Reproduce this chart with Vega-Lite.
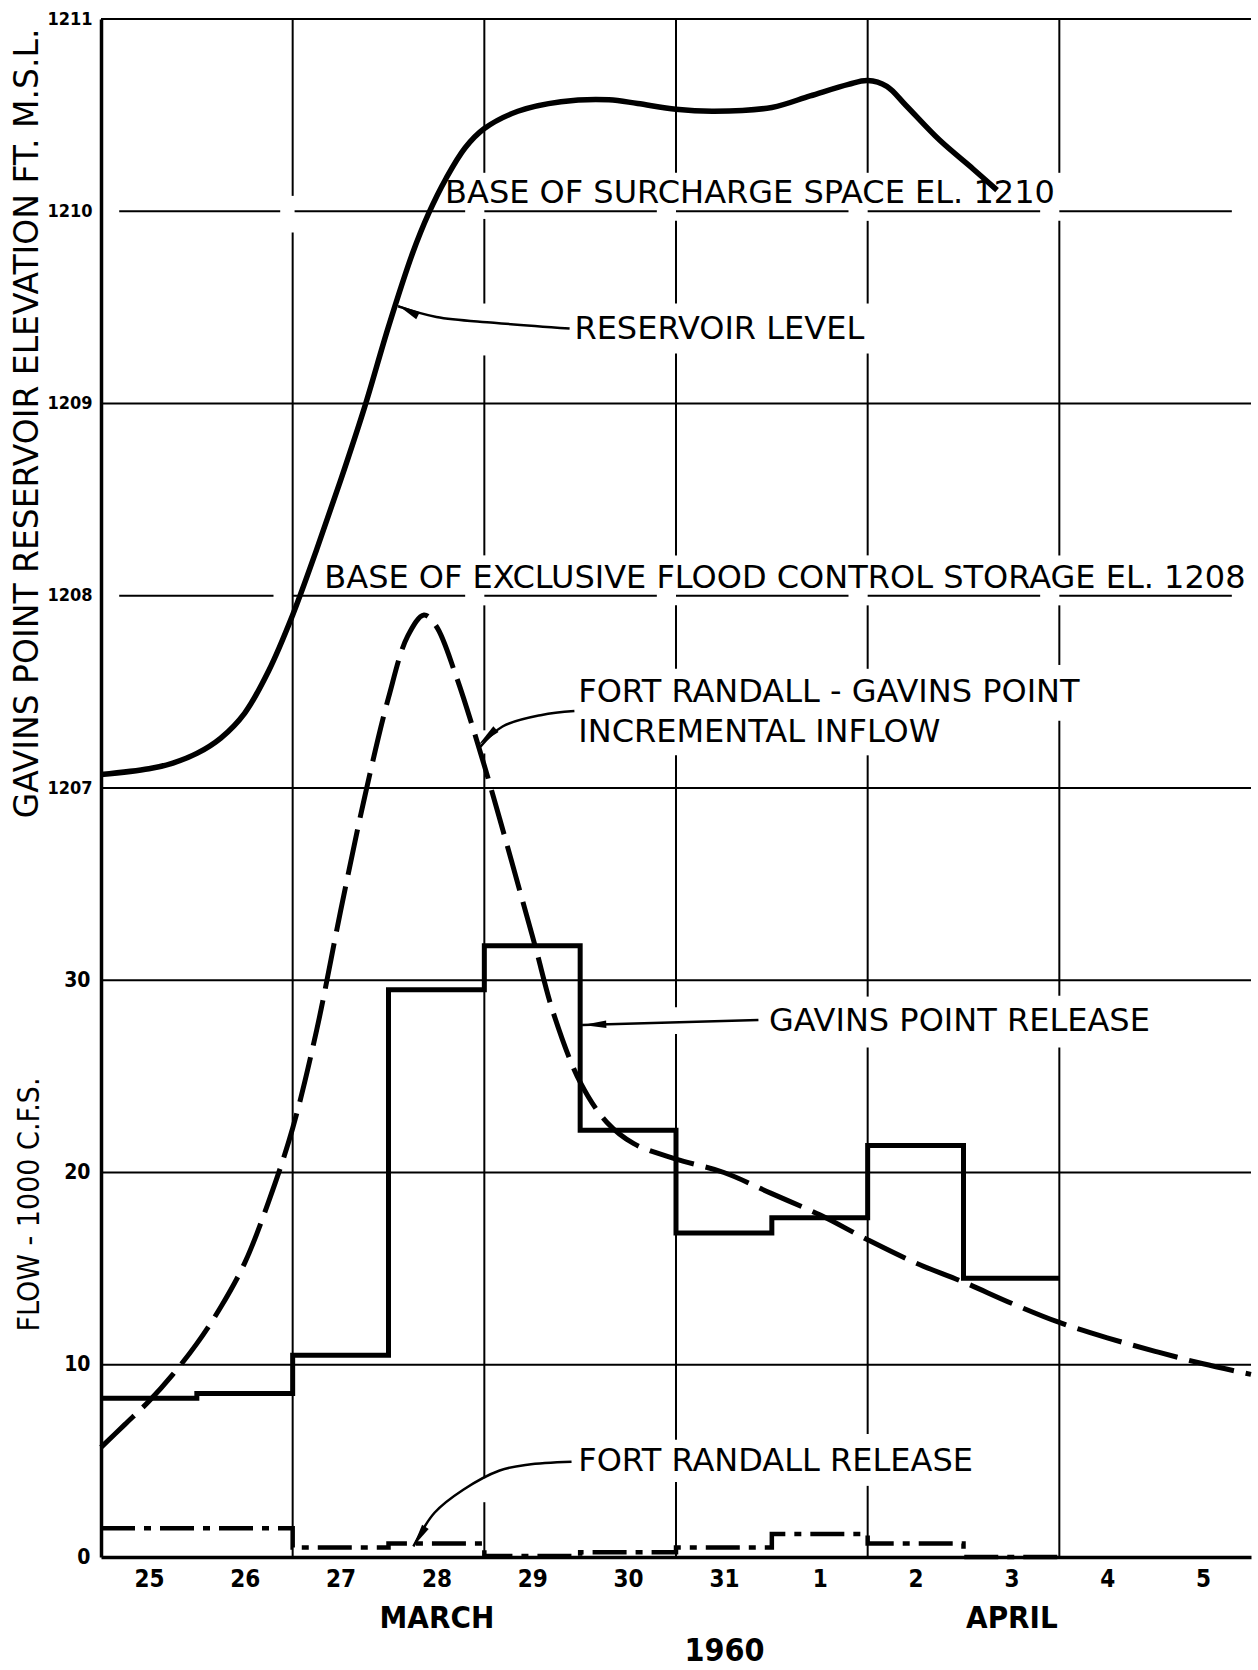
{
  "$schema": "https://vega.github.io/schema/vega-lite/v6.json",
  "width": 1150,
  "height": 1538,
  "autosize": {"type": "none"},
  "padding": {"left": 101, "top": 19, "right": 7, "bottom": 113},
  "background": "white",
  "config": {
    "view": {"stroke": null},
    "font": "DejaVu Sans",
    "axis": {"labelColor": "black", "titleColor": "black", "tickColor": "black", "domainColor": "black", "grid": false}
  },
  "datasets": {
    "gridV": [
      {"d": 26.5, "v": 0, "v2": 68.9}, {"d": 26.5, "v": 70.8, "v2": 80},
      {"d": 28.5, "v": 0, "v2": 2.85}, {"d": 28.5, "v": 4.1, "v2": 41.8}, {"d": 28.5, "v": 43.0, "v2": 49.5}, {"d": 28.5, "v": 52.1, "v2": 62.5}, {"d": 28.5, "v": 65.2, "v2": 69.6}, {"d": 28.5, "v": 72.0, "v2": 80},
      {"d": 30.5, "v": 0, "v2": 3.9}, {"d": 30.5, "v": 6.1, "v2": 27.2}, {"d": 30.5, "v": 28.6, "v2": 41.7}, {"d": 30.5, "v": 46.2, "v2": 49.5}, {"d": 30.5, "v": 52.1, "v2": 62.6}, {"d": 30.5, "v": 65.2, "v2": 69.5}, {"d": 30.5, "v": 72.0, "v2": 80},
      {"d": 32.5, "v": 0, "v2": 3.7}, {"d": 32.5, "v": 6.4, "v2": 26.5}, {"d": 32.5, "v": 29.15, "v2": 41.7}, {"d": 32.5, "v": 46.2, "v2": 49.5}, {"d": 32.5, "v": 52.1, "v2": 62.6}, {"d": 32.5, "v": 65.2, "v2": 69.5}, {"d": 32.5, "v": 72.0, "v2": 80},
      {"d": 34.5, "v": 0, "v2": 26.5}, {"d": 34.5, "v": 29.2, "v2": 43.5}, {"d": 34.5, "v": 46.4, "v2": 49.5}, {"d": 34.5, "v": 52.1, "v2": 69.5}, {"d": 34.5, "v": 72.0, "v2": 80}
    ],
    "gridH": [
      {"d": 24.5, "d2": 36.5, "v": 10}, {"d": 24.5, "d2": 36.5, "v": 20}, {"d": 24.5, "d2": 36.5, "v": 30},
      {"d": 24.5, "d2": 36.5, "v": 40}, {"d": 24.5, "d2": 36.5, "v": 60}, {"d": 24.5, "d2": 36.5, "v": 80},
      {"d": 24.69, "d2": 26.3, "v": 50}, {"d": 26.5, "d2": 28.3, "v": 50}, {"d": 28.5, "d2": 30.3, "v": 50}, {"d": 30.5, "d2": 32.3, "v": 50}, {"d": 32.5, "d2": 34.3, "v": 50}, {"d": 34.5, "d2": 36.3, "v": 50},
      {"d": 24.69, "d2": 26.37, "v": 70}, {"d": 26.52, "d2": 28.3, "v": 70}, {"d": 28.5, "d2": 30.3, "v": 70}, {"d": 30.5, "d2": 32.3, "v": 70}, {"d": 32.5, "d2": 34.3, "v": 70}, {"d": 34.5, "d2": 36.3, "v": 70}
    ],
    "inflow": [
      {"d": 24.5, "v": 5.7}, {"d": 24.75, "v": 6.9}, {"d": 25.0, "v": 8.1}, {"d": 25.25, "v": 9.5}, {"d": 25.5, "v": 11.1},
      {"d": 25.75, "v": 13.0}, {"d": 26.0, "v": 15.3}, {"d": 26.25, "v": 18.5}, {"d": 26.5, "v": 22.3}, {"d": 26.75, "v": 27.4},
      {"d": 27.0, "v": 33.6}, {"d": 27.25, "v": 39.5}, {"d": 27.5, "v": 44.7}, {"d": 27.7, "v": 47.9}, {"d": 27.87, "v": 49.0},
      {"d": 28.0, "v": 48.4}, {"d": 28.2, "v": 45.9}, {"d": 28.48, "v": 41.5}, {"d": 28.66, "v": 38.4}, {"d": 28.94, "v": 33.4},
      {"d": 29.04, "v": 31.6}, {"d": 29.22, "v": 28.3}, {"d": 29.5, "v": 24.7}, {"d": 29.78, "v": 22.6}, {"d": 30.06, "v": 21.5},
      {"d": 30.5, "v": 20.7}, {"d": 31.0, "v": 20.0}, {"d": 31.5, "v": 18.9}, {"d": 32.0, "v": 17.8}, {"d": 32.5, "v": 16.5},
      {"d": 33.0, "v": 15.3}, {"d": 33.5, "v": 14.3}, {"d": 34.0, "v": 13.2}, {"d": 34.5, "v": 12.2}, {"d": 35.0, "v": 11.4},
      {"d": 35.5, "v": 10.7}, {"d": 36.0, "v": 10.05}, {"d": 36.5, "v": 9.5}
    ],
    "gavins": [
      {"d": 24.5, "v": 8.26}, {"d": 25.5, "v": 8.5}, {"d": 26.5, "v": 10.5}, {"d": 27.5, "v": 29.5}, {"d": 28.5, "v": 31.8},
      {"d": 29.5, "v": 22.2}, {"d": 30.5, "v": 16.85}, {"d": 31.5, "v": 17.65}, {"d": 32.5, "v": 21.4}, {"d": 33.5, "v": 14.5}, {"d": 34.5, "v": 14.5}
    ],
    "fortrandall": [
      {"d": 24.5, "v": 1.5}, {"d": 26.5, "v": 0.5}, {"d": 27.5, "v": 0.7}, {"d": 28.5, "v": 0.05}, {"d": 29.5, "v": 0.25},
      {"d": 30.5, "v": 0.5}, {"d": 31.5, "v": 1.2}, {"d": 32.5, "v": 0.7}, {"d": 33.5, "v": 0.0}, {"d": 34.5, "v": 0.0}
    ],
    "reservoir": [
      {"d": 24.5, "e": 1207.07}, {"d": 25.0, "e": 1207.1}, {"d": 25.25, "e": 1207.13}, {"d": 25.5, "e": 1207.18}, {"d": 25.75, "e": 1207.26},
      {"d": 26.0, "e": 1207.39}, {"d": 26.25, "e": 1207.61}, {"d": 26.5, "e": 1207.9}, {"d": 26.75, "e": 1208.24}, {"d": 27.0, "e": 1208.6},
      {"d": 27.25, "e": 1208.98}, {"d": 27.5, "e": 1209.4}, {"d": 27.75, "e": 1209.78}, {"d": 27.92, "e": 1209.99}, {"d": 28.1, "e": 1210.17},
      {"d": 28.3, "e": 1210.33}, {"d": 28.5, "e": 1210.43}, {"d": 28.85, "e": 1210.52}, {"d": 29.3, "e": 1210.57}, {"d": 29.8, "e": 1210.58},
      {"d": 30.1, "e": 1210.56}, {"d": 30.5, "e": 1210.53}, {"d": 30.9, "e": 1210.52}, {"d": 31.5, "e": 1210.54}, {"d": 31.9, "e": 1210.6},
      {"d": 32.3, "e": 1210.66}, {"d": 32.5, "e": 1210.68}, {"d": 32.7, "e": 1210.65}, {"d": 32.9, "e": 1210.55}, {"d": 33.25, "e": 1210.37},
      {"d": 33.6, "e": 1210.22}, {"d": 33.85, "e": 1210.11}
    ],
    "arrows": [
      {"id": "res", "d": 27.6, "v": 65.05}, {"id": "res", "d": 28.0, "v": 64.5}, {"id": "res", "d": 28.6, "v": 64.2}, {"id": "res", "d": 29.39, "v": 63.9},
      {"id": "inf", "d": 28.45, "v": 42.1}, {"id": "inf", "d": 28.69, "v": 43.2}, {"id": "inf", "d": 29.1, "v": 43.8}, {"id": "inf", "d": 29.44, "v": 44.0},
      {"id": "gr", "d": 29.52, "v": 27.67}, {"id": "gr", "d": 31.36, "v": 27.93},
      {"id": "fr", "d": 27.76, "v": 0.55}, {"id": "fr", "d": 27.98, "v": 2.3}, {"id": "fr", "d": 28.28, "v": 3.5}, {"id": "fr", "d": 28.66, "v": 4.5}, {"id": "fr", "d": 28.95, "v": 4.8}, {"id": "fr", "d": 29.41, "v": 4.95}
    ],
    "heads": [
      {"id": "res", "d": 27.7, "v": 64.85},
      {"id": "inf", "d": 28.53, "v": 42.65},
      {"id": "gr", "d": 29.65, "v": 27.69},
      {"id": "fr", "d": 27.82, "v": 1.05}
    ],
    "notes": [
      {"t": "RESERVOIR LEVEL", "d": 29.44, "v": 63.9},
      {"t": "BASE OF SURCHARGE SPACE EL. 1210", "d": 28.09, "v": 70.95},
      {"t": "BASE OF EXCLUSIVE FLOOD CONTROL STORAGE EL. 1208", "d": 26.83, "v": 50.9},
      {"t": "FORT RANDALL - GAVINS POINT", "d": 29.48, "v": 45.0},
      {"t": "INCREMENTAL INFLOW", "d": 29.48, "v": 42.9},
      {"t": "GAVINS POINT RELEASE", "d": 31.47, "v": 27.9},
      {"t": "FORT RANDALL RELEASE", "d": 29.48, "v": 5.0}
    ]
  },
  "layer": [
    {
      "encoding": {
        "x": {
          "field": "d", "type": "quantitative",
          "scale": {"domain": [24.5, 36.5], "nice": false, "zero": false},
          "axis": {
            "values": [25, 26, 27, 28, 29, 30, 31, 32, 33, 34, 35, 36],
            "labelExpr": "'' + (datum.value > 31 ? datum.value - 31 : datum.value)",
            "ticks": false, "domainWidth": 3.5, "labelFontSize": 24, "labelFontWeight": "bold",
            "labelFont": "DejaVu Sans Condensed, DejaVu Sans",
            "labelPadding": 10, "labelFlush": false, "labelOverlap": false, "title": null
          }
        },
        "y": {
          "field": "v", "type": "quantitative",
          "scale": {"domain": [0, 80], "nice": false, "zero": false},
          "axis": {
            "values": [0, 10, 20, 30],
            "title": "FLOW - 1000 C.F.S.",
            "titleX": -63, "titleY": 1185, "titleAngle": 270, "titleAlign": "center", "titleBaseline": "alphabetic",
            "titleFontSize": 30, "titleFontWeight": "normal",
            "titleFont": "DejaVu Sans Condensed, DejaVu Sans",
            "labelFontSize": 21, "labelFontWeight": "bold",
            "labelFont": "DejaVu Sans Condensed, DejaVu Sans",
            "labelPadding": 11, "ticks": false, "domainWidth": 3.5
          }
        }
      },
      "layer": [
        {"data": {"name": "gridV"}, "mark": {"type": "rule", "stroke": "black", "strokeWidth": 2}, "encoding": {"y2": {"field": "v2"}}},
        {"data": {"name": "gridH"}, "mark": {"type": "rule", "stroke": "black", "strokeWidth": 2}, "encoding": {"x2": {"field": "d2"}}},
        {"data": {"name": "inflow"}, "mark": {"type": "line", "interpolate": "catmull-rom", "strokeDash": [46, 12], "strokeWidth": 5, "color": "black"}},
        {"data": {"name": "gavins"}, "mark": {"type": "line", "interpolate": "step-after", "strokeWidth": 5, "color": "black"}},
        {"data": {"name": "fortrandall"}, "mark": {"type": "line", "interpolate": "step-after", "strokeWidth": 4.5, "strokeDash": [34, 9, 7, 9], "color": "black"}},
        {"data": {"name": "arrows"}, "mark": {"type": "line", "interpolate": "catmull-rom", "strokeWidth": 2.5, "color": "black"}, "encoding": {"detail": {"field": "id"}}},
        {"data": {"name": "heads"}, "transform": [{"filter": "datum.id == 'res'"}], "mark": {"type": "point", "shape": "M0,-1L0.33,1L-0.33,1Z", "filled": true, "size": 550, "angle": 298, "color": "black", "opacity": 1, "strokeWidth": 0}},
        {"data": {"name": "heads"}, "transform": [{"filter": "datum.id == 'inf'"}], "mark": {"type": "point", "shape": "M0,-1L0.33,1L-0.33,1Z", "filled": true, "size": 550, "angle": 228, "color": "black", "opacity": 1, "strokeWidth": 0}},
        {"data": {"name": "heads"}, "transform": [{"filter": "datum.id == 'gr'"}], "mark": {"type": "point", "shape": "M0,-1L0.33,1L-0.33,1Z", "filled": true, "size": 550, "angle": 268, "color": "black", "opacity": 1, "strokeWidth": 0}},
        {"data": {"name": "heads"}, "transform": [{"filter": "datum.id == 'fr'"}], "mark": {"type": "point", "shape": "M0,-1L0.33,1L-0.33,1Z", "filled": true, "size": 550, "angle": 212, "color": "black", "opacity": 1, "strokeWidth": 0}},
        {"data": {"name": "notes"}, "mark": {"type": "text", "align": "left", "baseline": "middle", "fontSize": 32, "color": "black"}, "encoding": {"text": {"field": "t"}}}
      ]
    },
    {
      "data": {"name": "reservoir"},
      "mark": {"type": "line", "interpolate": "catmull-rom", "strokeWidth": 5.5, "color": "black"},
      "encoding": {
        "x": {
          "field": "d", "type": "quantitative",
          "scale": {"domain": [24.5, 36.5], "nice": false, "zero": false},
          "axis": {
            "orient": "bottom", "values": [28, 34],
            "labelExpr": "datum.value == 28 ? 'MARCH' : 'APRIL'",
            "ticks": false, "domain": false, "labelFontSize": 31, "labelFontWeight": "bold",
            "labelFont": "DejaVu Sans Condensed, DejaVu Sans",
            "labelPadding": 46, "labelFlush": false, "labelOverlap": false,
            "title": "1960", "titleFontSize": 32, "titleFontWeight": "bold",
            "titleFont": "DejaVu Sans Condensed, DejaVu Sans",
            "titleX": 623, "titleY": 103, "titleAlign": "center", "titleBaseline": "alphabetic"
          }
        },
        "y": {
          "field": "e", "type": "quantitative",
          "scale": {"domain": [1203, 1211], "nice": false, "zero": false},
          "axis": {
            "orient": "left", "values": [1207, 1208, 1209, 1210, 1211], "format": "d",
            "domain": false,
            "title": "GAVINS POINT RESERVOIR ELEVATION FT. M.S.L.",
            "titleX": -64, "titleY": 404, "titleAngle": 270, "titleAlign": "center", "titleBaseline": "alphabetic",
            "titleFontSize": 33, "titleFontWeight": "normal",
            "labelFontSize": 18, "labelFontWeight": "bold",
            "labelFont": "DejaVu Sans Condensed, DejaVu Sans",
            "labelPadding": 9, "ticks": false
          }
        }
      }
    }
  ],
  "resolve": {"scale": {"y": "independent"}, "axis": {"x": "independent", "y": "independent"}}
}
